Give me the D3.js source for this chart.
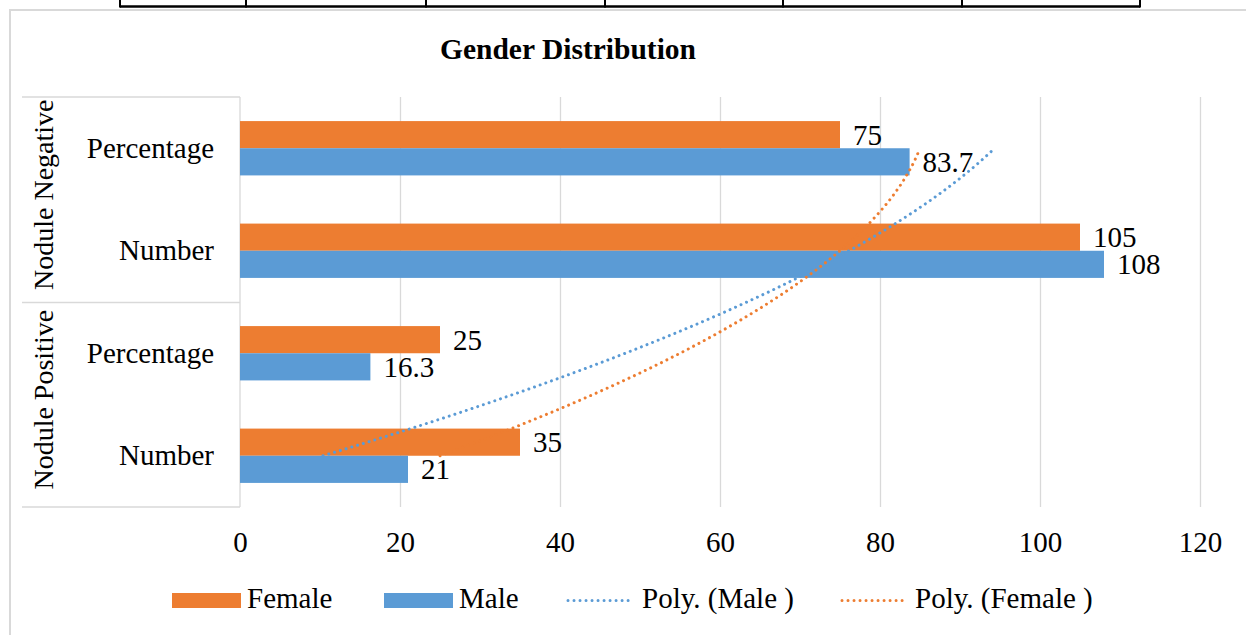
<!DOCTYPE html>
<html>
<head>
<meta charset="utf-8">
<script src="https://cdn.jsdelivr.net/npm/d3@7"></script>
<style>
  body { margin: 0; background: #fff; }
  svg text { font-family: "Liberation Serif", "Times New Roman", serif; fill: #000; }
</style>
</head>
<body>
<svg id="chart" width="1246" height="635"></svg>
<script>
// Categories, top to bottom
const categoryLabels = ["Percentage", "Number", "Percentage", "Number"];
const categoryGroups = ["Nodule Negative", "Nodule Negative", "Nodule Positive", "Nodule Positive"];
const groupNames = ["Nodule Negative", "Nodule Positive"];

// Series values, same order as the categories
const femaleValues = [75, 105, 25, 35];
const maleValues = [83.7, 108, 16.3, 21];
const femaleLabels = ["75", "105", "25", "35"];
const maleLabels = ["83.7", "108", "16.3", "21"];

// Value axis ticks
const xTicks = [0, 20, 40, 60, 80, 100, 120];

// Table border fragment above the chart
const tableCols = [120, 246, 426, 605, 783, 962, 1140];

const orange = "#ED7D31";
const blue = "#5B9BD5";
const grid = "#D9D9D9";
const fontSize = "29px";

let series = [
  { name: "Female", values: femaleValues, labels: femaleLabels, color: orange },
  { name: "Male", values: maleValues, labels: maleLabels, color: blue },
];

let svg = d3.select("#chart");

// Table lines at the very top
svg.append("line")
  .attr("x1", tableCols[0]).attr("x2", tableCols[tableCols.length - 1])
  .attr("y1", 6.5).attr("y2", 6.5)
  .attr("stroke", "#000").attr("stroke-width", 2.5);
svg.selectAll(".tcol").data(tableCols).enter().append("line")
  .attr("x1", d => d).attr("x2", d => d)
  .attr("y1", 0).attr("y2", 7.5)
  .attr("stroke", "#000").attr("stroke-width", 2);

// Chart area border
svg.append("rect")
  .attr("x", 10).attr("y", 10)
  .attr("width", 1260).attr("height", 640)
  .attr("fill", "none").attr("stroke", grid).attr("stroke-width", 2);

// Scales
const x = d3.scaleLinear().domain([0, 120]).range([240, 1200]);
const y = d3.scaleBand()
  .domain(d3.range(categoryLabels.length))
  .range([97, 507])
  .paddingInner(0.47)
  .paddingOuter(0.235);
const ySub = d3.scaleBand()
  .domain(series.map(s => s.name))
  .range([0, y.bandwidth()]);

const plotTop = 97, plotBottom = 507;

// Gridlines
svg.append("g")
  .attr("transform", "translate(0," + plotBottom + ")")
  .call(d3.axisBottom(x).tickValues(xTicks.slice(1)).tickSize(-(plotBottom - plotTop)).tickFormat(""))
  .call(g => g.select(".domain").remove())
  .call(g => g.selectAll("line").attr("stroke", grid).attr("stroke-width", 1.3));

// Tick labels
svg.append("g")
  .attr("transform", "translate(0," + plotBottom + ")")
  .call(d3.axisBottom(x).tickValues(xTicks).tickSize(0).tickPadding(24))
  .call(g => g.select(".domain").remove())
  .call(g => g.selectAll("text").attr("font-size", fontSize).attr("font-family", "Liberation Serif"));

// Category axis
svg.append("g")
  .attr("transform", "translate(240,0)")
  .call(d3.axisLeft(y).tickSize(0).tickPadding(26).tickFormat(i => categoryLabels[i]))
  .call(g => g.select(".domain").attr("stroke", grid).attr("stroke-width", 1.3)
    .attr("d", "M0," + plotTop + "V" + plotBottom))
  .call(g => g.selectAll("text").attr("font-size", fontSize).attr("font-family", "Liberation Serif"));

// Group separators and group labels
const groupBounds = [plotTop, (plotTop + plotBottom) / 2 + 0.5, plotBottom];
svg.selectAll(".sep").data(groupBounds).enter().append("line")
  .attr("x1", 22).attr("x2", 240)
  .attr("y1", d => d).attr("y2", d => d)
  .attr("stroke", grid).attr("stroke-width", 1.3);

svg.selectAll(".glabel").data(groupNames).enter().append("text")
  .attr("transform", (d, i) => "translate(53," + ((groupBounds[i] + groupBounds[i + 1]) / 2 - 5) + ") rotate(-90)")
  .attr("text-anchor", "middle")
  .attr("font-size", "28px")
  .text(d => d);

// Bars
series.forEach(s => {
  svg.selectAll(".bar-" + s.name).data(s.values).enter().append("rect")
    .attr("x", x(0))
    .attr("y", (d, i) => y(i) + ySub(s.name))
    .attr("width", d => x(d) - x(0))
    .attr("height", ySub.bandwidth())
    .attr("fill", s.color);
});

// Data labels
series.forEach(s => {
  svg.selectAll(".lab-" + s.name).data(s.values).enter().append("text")
    .attr("x", d => x(d) + 13)
    .attr("y", (d, i) => y(i) + ySub(s.name) + ySub.bandwidth() / 2 + 10)
    .attr("font-size", fontSize)
    .text((d, i) => s.labels[i]);
});

// Polynomial (order 2) trendlines, like Excel: x = 1..n from the bottom category
function polyFit2(xs, ys) {
  let n = xs.length;
  let s = [0, 0, 0, 0, 0];
  let t = [0, 0, 0];
  for (let k = 0; k < n; k++) {
    for (let p = 0; p < 5; p++) s[p] += Math.pow(xs[k], p);
    for (let p = 0; p < 3; p++) t[p] += ys[k] * Math.pow(xs[k], p);
  }
  let A = [[s[0], s[1], s[2], t[0]], [s[1], s[2], s[3], t[1]], [s[2], s[3], s[4], t[2]]];
  for (let c = 0; c < 3; c++) {
    for (let r = c + 1; r < 3; r++) {
      let f = A[r][c] / A[c][c];
      for (let q = c; q < 4; q++) A[r][q] -= f * A[c][q];
    }
  }
  let coef = [0, 0, 0];
  for (let r = 2; r >= 0; r--) {
    let v = A[r][3];
    for (let q = r + 1; q < 3; q++) v -= A[r][q] * coef[q];
    coef[r] = v / A[r][r];
  }
  return coef;
}

const nCat = categoryLabels.length;
const center = i => y(i) + y.bandwidth() / 2;
const yIdx = d3.scaleLinear().domain([1, nCat]).range([center(nCat - 1), center(0)]);

// Male trend first, Female on top
[series[1], series[0]].forEach(s => {
  let xs = s.values.map((d, i) => nCat - i);
  let coef = polyFit2(xs, s.values);
  let pts = d3.range(1, nCat + 0.001, 0.05).map(t => [coef[0] + coef[1] * t + coef[2] * t * t, t]);
  svg.append("path")
    .datum(pts)
    .attr("fill", "none")
    .attr("stroke", s.color)
    .attr("stroke-width", 3)
    .attr("stroke-linecap", "round")
    .attr("stroke-dasharray", "0.01 6")
    .attr("d", d3.line().x(d => x(d[0])).y(d => yIdx(d[1])));
});

// Title
svg.append("text")
  .attr("x", 568).attr("y", 59)
  .attr("text-anchor", "middle")
  .attr("font-size", "29.5px")
  .attr("font-weight", "bold")
  .text("Gender Distribution");

// Legend
const legendItems = [
  { name: "Female", type: "rect", color: orange, x: 172, tx: 247 },
  { name: "Male", type: "rect", color: blue, x: 384, tx: 459 },
  { name: "Poly. (Male )", type: "line", color: blue, x: 568, tx: 642 },
  { name: "Poly. (Female )", type: "line", color: orange, x: 842, tx: 915 },
];
let legend = svg.append("g");
legendItems.forEach(item => {
  if (item.type === "rect") {
    legend.append("rect")
      .attr("x", item.x).attr("y", 593)
      .attr("width", 69).attr("height", 15)
      .attr("fill", item.color);
  } else {
    legend.append("line")
      .attr("x1", item.x).attr("x2", item.x + 65)
      .attr("y1", 600.5).attr("y2", 600.5)
      .attr("stroke", item.color).attr("stroke-width", 3)
      .attr("stroke-linecap", "round")
      .attr("stroke-dasharray", "0.01 6");
  }
  legend.append("text")
    .attr("x", item.tx).attr("y", 608)
    .attr("font-size", fontSize)
    .text(item.name);
});
</script>
</body>
</html>
